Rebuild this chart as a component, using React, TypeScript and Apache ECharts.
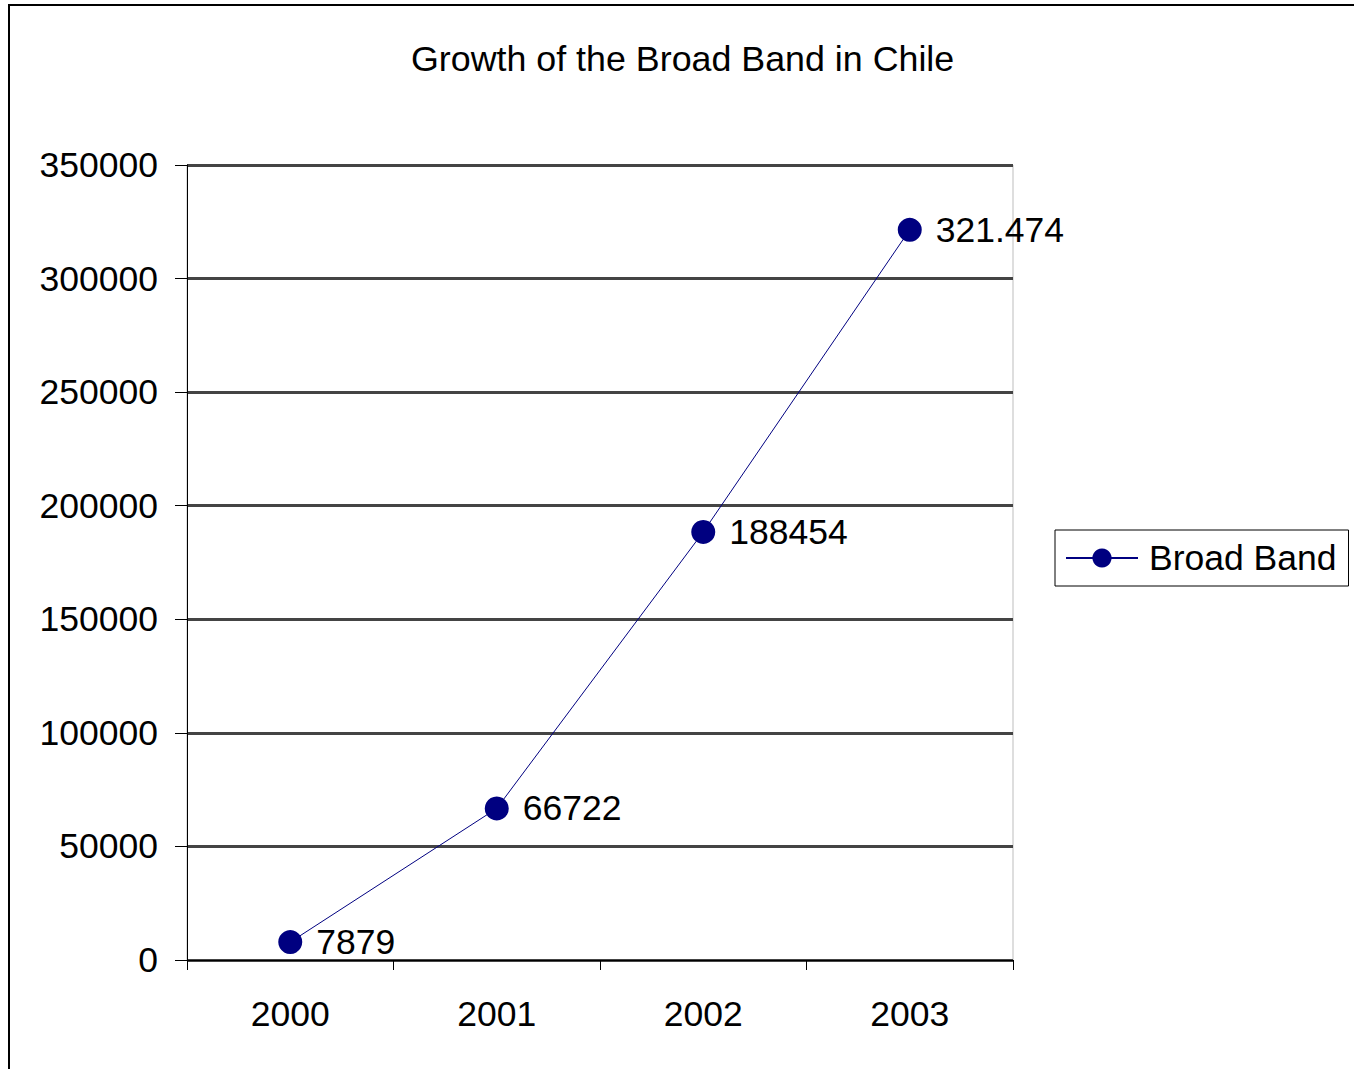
import React, { useEffect, useRef } from "react";
import * as echarts from "echarts";

const years = ["2000", "2001", "2002", "2003"];
const broadBand = [7879, 66722, 188454, 321474];
const pointLabels = ["7879", "66722", "188454", "321.474"];
const yTicks = { min: 0, max: 350000, interval: 50000 };

const FONT = "'Liberation Sans', Arial, sans-serif";
const SIZE = 35.5;

export default function App() {
  const ref = useRef<HTMLDivElement>(null);

  useEffect(() => {
    if (!ref.current) return;
    const chart = echarts.init(ref.current, null, { renderer: "svg" });
    chart.setOption({
      animation: false,
      backgroundColor: "#ffffff",
      textStyle: { fontFamily: FONT },
      title: {
        text: "Growth of the Broad Band in Chile",
        left: 406,
        top: 36,
        textStyle: { fontFamily: FONT, fontSize: 35.8, fontWeight: "normal", color: "#000" },
      },
      graphic: [
        {
          type: "rect",
          shape: { x: 9, y: 5, width: 1400, height: 1100 },
          style: { fill: "none", stroke: "#000", lineWidth: 2 },
          silent: true,
        },
      ],
      legend: {
        data: ["Broad Band"],
        left: 1055,
        top: 530,
        orient: "vertical",
        padding: [10, 12, 10, 10],
        borderColor: "#000",
        borderWidth: 1,
        itemWidth: 72,
        itemHeight: 24,
        textStyle: { fontFamily: FONT, fontSize: SIZE, color: "#000", padding: [0, 0, 0, 6] },
      },
      grid: {
        left: 187,
        right: 341,
        top: 165,
        bottom: 109,
        show: true,
        borderColor: "#bdbdbd",
        borderWidth: 1,
      },
      xAxis: {
        type: "category",
        data: years,
        boundaryGap: true,
        axisLine: { lineStyle: { color: "#000", width: 1 } },
        axisTick: { show: true, length: 10, lineStyle: { color: "#000" } },
        axisLabel: { fontFamily: FONT, fontSize: SIZE, color: "#000", margin: 36 },
      },
      yAxis: {
        type: "value",
        min: yTicks.min,
        max: yTicks.max,
        interval: yTicks.interval,
        axisLine: { show: true, lineStyle: { color: "#000", width: 1 } },
        axisTick: { show: true, length: 12, lineStyle: { color: "#000" } },
        axisLabel: {
          fontFamily: FONT,
          fontSize: SIZE,
          color: "#000",
          margin: 29,
          formatter: (v: number) => String(v),
        },
        splitLine: { show: true, lineStyle: { color: "#444", width: 3 } },
      },
      series: [
        {
          name: "Broad Band",
          type: "line",
          data: broadBand,
          symbol: "circle",
          symbolSize: 24,
          lineStyle: { color: "#000080", width: 1 },
          itemStyle: { color: "#000080" },
          label: {
            show: true,
            position: "right",
            distance: 14,
            fontFamily: FONT,
            fontSize: SIZE,
            color: "#000",
            formatter: (p: any) => pointLabels[p.dataIndex],
          },
        },
      ],
    });
    return () => chart.dispose();
  }, []);

  return (
    <div
      ref={ref}
      style={{ position: "fixed", left: 0, top: 0, width: 1354, height: 1069 }}
    />
  );
}
